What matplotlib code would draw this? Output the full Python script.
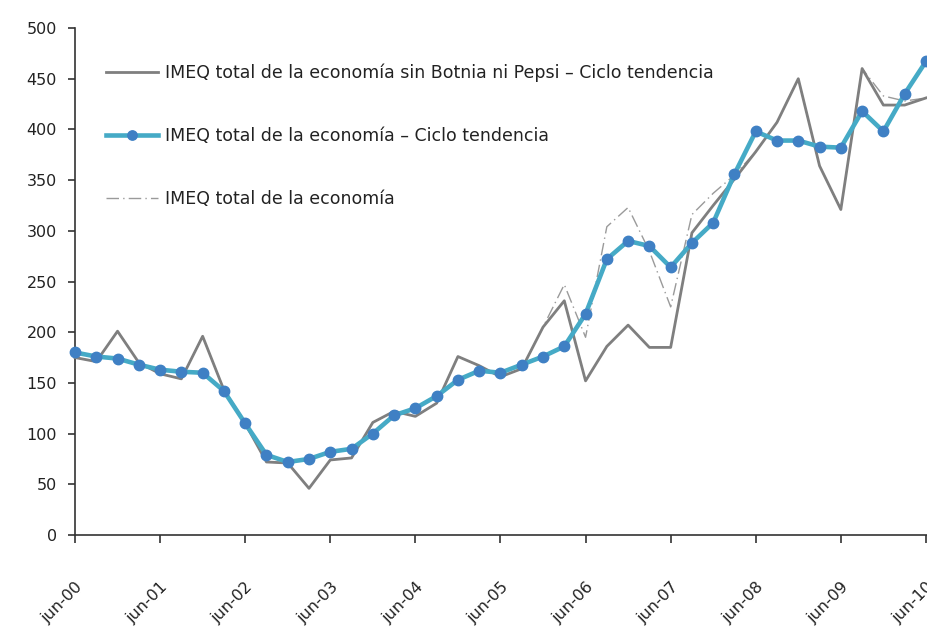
import numpy as np
import matplotlib
matplotlib.use("Agg")
import matplotlib.pyplot as plt
import matplotlib.transforms as mtransforms

# Series trimestrales jun-00 .. jun-10
ciclo_sin_bp = [175, 171, 201, 170, 159, 154, 196, 143, 110, 72,
                71, 46, 74, 76, 111, 122, 117, 130, 176, 167,
                156, 164, 205, 231, 152, 186, 207, 185, 185, 298,
                325, 351, 378, 407, 450, 364, 321, 460, 424, 424, 431]
ciclo_total = [180, 176, 174, 168, 163, 161, 160, 142, 110, 79,
               72, 75, 82, 85, 100, 118, 125, 137, 153, 162,
               160, 168, 176, 186, 218, 272, 290, 285, 264, 288,
               308, 356, 398, 389, 389, 383, 382, 418, 398, 435, 467]
imeq_total = [175, 171, 201, 170, 159, 154, 196, 143, 110, 72,
              71, 46, 74, 76, 111, 122, 117, 130, 176, 167,
              156, 164, 205, 247, 195, 304, 323, 280, 225, 316,
              337, 355, 378, 407, 450, 364, 321, 460, 433, 428, 431]
year_labels = ["jun-00", "jun-01", "jun-02", "jun-03", "jun-04", "jun-05",
               "jun-06", "jun-07", "jun-08", "jun-09", "jun-10"]
legend_labels = ["IMEQ total de la economía sin Botnia ni Pepsi – Ciclo tendencia",
                 "IMEQ total de la economía – Ciclo tendencia",
                 "IMEQ total de la economía"]

x = np.arange(len(ciclo_total))

fig = plt.figure(figsize=(9.27, 6.32), dpi=100)
ax = fig.add_axes([75 / 927, 1 - 535 / 632, 1 - 75 / 927, (535 - 28) / 632])

l3, = ax.plot(x, imeq_total, color="#9a9a9a", lw=1.0, linestyle=(0, (9, 3, 1, 3)),
              zorder=2, clip_on=False)
l1, = ax.plot(x, ciclo_sin_bp, color="#7f7f7f", lw=2.0, zorder=3, clip_on=False)
l2, = ax.plot(x, ciclo_total, color="#45aac6", lw=3.3, marker="o", markersize=7.5,
              markerfacecolor="#3f80c4", markeredgecolor="#3f80c4", zorder=4, clip_on=False)

ax.set_xlim(0, 40.05)
ax.set_ylim(0, 500)
ax.set_yticks(np.arange(0, 501, 50))
ax.set_xticks(np.arange(0, 41, 4))
ax.set_xticklabels(year_labels, rotation=45, ha="right", va="top",
                   rotation_mode="anchor")

# desplazar etiquetas del eje x un poco a la izquierda
shift = mtransforms.ScaledTranslation(-10 / 100, 0, fig.dpi_scale_trans)
for lab in ax.get_xticklabels():
    lab.set_transform(lab.get_transform() + shift)

for s in ["top", "right"]:
    ax.spines[s].set_visible(False)
for s in ["left", "bottom"]:
    ax.spines[s].set_color("#333333")
    ax.spines[s].set_linewidth(1.2)

ax.tick_params(axis="y", direction="out", length=5, width=1.2, color="#333333",
               labelsize=11.5, labelcolor="#222222", pad=8)
ax.tick_params(axis="x", direction="out", length=6, width=1.2, color="#333333",
               labelsize=11.5, labelcolor="#222222", pad=26)

leg = ax.legend([l1, l2, l3], legend_labels, loc="upper left",
                bbox_to_anchor=(97 / 927, 1 - 55 / 632), bbox_transform=fig.transFigure,
                frameon=False, fontsize=12.5, handlelength=3.0, handletextpad=0.42,
                labelspacing=2.6, borderpad=0, markerscale=0.9)
for t in leg.get_texts():
    t.set_color("#222222")

fig.savefig("out.png", dpi=100)
